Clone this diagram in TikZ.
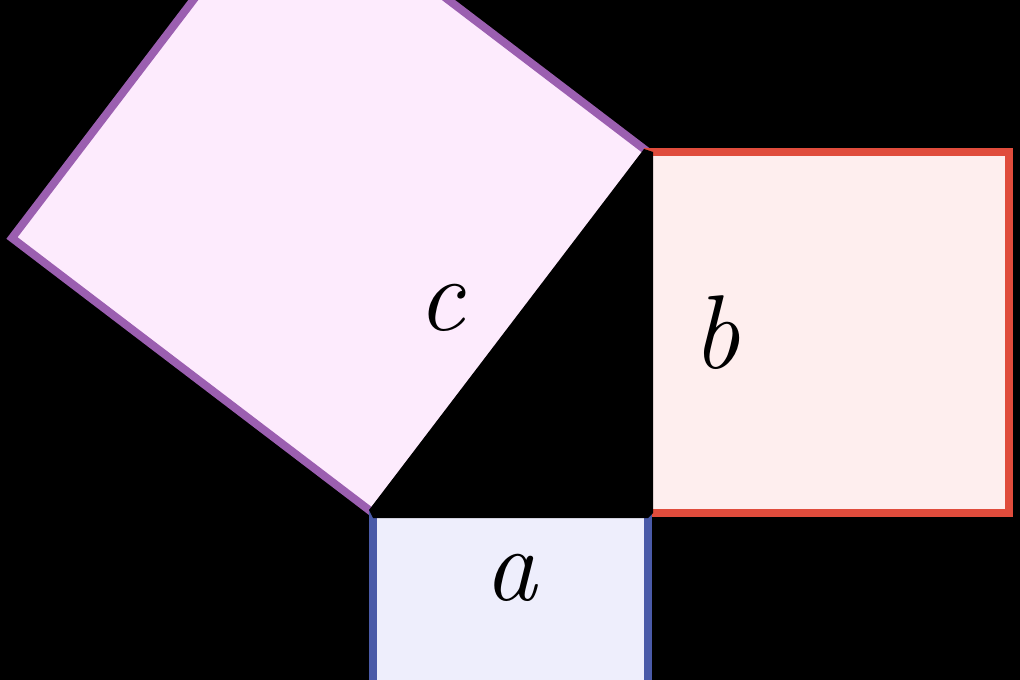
\documentclass[tikz,border=0pt]{standalone}
\definecolor{cfill}{HTML}{FDEBFD}
\definecolor{cline}{HTML}{9B5FB0}
\definecolor{bfill}{HTML}{FEEEEE}
\definecolor{bline}{HTML}{E04C3C}
\definecolor{afill}{HTML}{EEEEFC}
\definecolor{aline}{HTML}{4A5AA8}
\tikzset{
  sq/.style={line width=8pt, line join=miter},
  tri/.style={fill=black, draw=black, line width=10pt, line join=bevel},
  lab/.style={anchor=base, inner sep=0pt, font=\fontsize{105}{105}\selectfont\itshape}
}
\begin{document}
\begin{tikzpicture}[x=1pt,y=-1pt]
\fill[black] (0,0) rectangle (1020,680);
\useasboundingbox (0,0) rectangle (1020,680);
\coordinate (A) at (373,513);
\coordinate (B) at (648,513);
\coordinate (C) at (648,152);
\coordinate (D) at (12,238);
\coordinate (E) at (287,-123);
\coordinate (F) at (1009,152);
\coordinate (G) at (1009,513);
\coordinate (H) at (648,788);
\coordinate (I) at (373,788);
% square on c
\filldraw[sq, fill=cfill, draw=cline] (A) -- (D) -- (E) -- (C) -- cycle;
% square on b
\filldraw[sq, fill=bfill, draw=bline] (C) -- (F) -- (G) -- (B) -- cycle;
% square on a
\filldraw[sq, fill=afill, draw=aline] (A) -- (B) -- (H) -- (I) -- cycle;
% triangle
\filldraw[tri] (A) -- (B) -- (C) -- cycle;
% labels
\node[lab] (la) at (511,600) {a};
\node[lab] (lb) at (716,368) {b};
\node[lab] (lc) at (441,330) {c};
\end{tikzpicture}
\end{document}
